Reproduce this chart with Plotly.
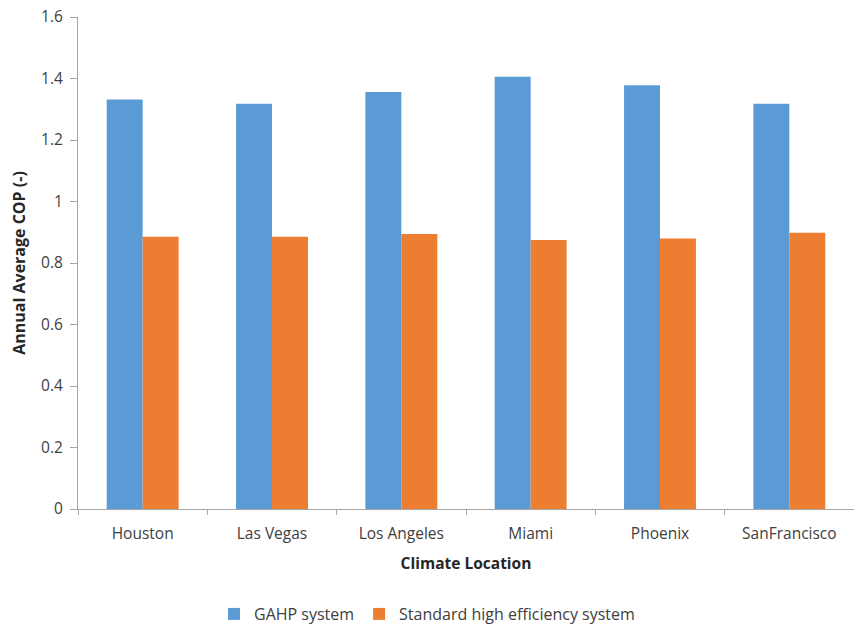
import plotly.graph_objects as go

# Annual average COP by climate location
locations = ["Houston", "Las Vegas", "Los Angeles", "Miami", "Phoenix", "SanFrancisco"]
gahp_cop = [1.332, 1.318, 1.356, 1.406, 1.378, 1.318]
standard_cop = [0.885, 0.885, 0.894, 0.875, 0.880, 0.898]
y_ticks = [0, 0.2, 0.4, 0.6, 0.8, 1, 1.2, 1.4, 1.6]

FONT = "Open Sans"
fig = go.Figure()
fig.add_trace(go.Bar(x=locations, y=gahp_cop, name="GAHP system",
                     marker=dict(color="#5b9bd5", line=dict(width=0))))
fig.add_trace(go.Bar(x=locations, y=standard_cop, name="Standard high efficiency system",
                     marker=dict(color="#ed7d31", line=dict(width=0))))

fig.update_layout(
    width=854, height=624,
    margin=dict(l=78, r=0, t=17, b=115),
    paper_bgcolor="white", plot_bgcolor="white",
    barmode="group", bargap=0.444, bargroupgap=0,
    font=dict(family=FONT, size=15.5, color="#404040"),
    showlegend=True,
    legend=dict(orientation="h", xref="container", yref="container",
                x=0.5, xanchor="center", y=0.016, yanchor="middle",
                font=dict(size=16, color="#404040"), itemwidth=30,
                traceorder="normal"),
    xaxis=dict(
        type="category", showline=True, linecolor="#a6a6a6", linewidth=1,
        ticks="outside", tickson="boundaries", ticklen=5, tickcolor="#a6a6a6",
        showgrid=False, zeroline=False, ticklabelstandoff=10,
        title=dict(text="<b>Climate Location</b>", standoff=15,
                   font=dict(size=15.5, color="#262626")),
        tickfont=dict(size=15.5, color="#404040"),
    ),
    yaxis=dict(
        range=[0, 1.6], tickvals=y_ticks,
        ticktext=[("%g" % v) for v in y_ticks],
        showline=True, linecolor="#a6a6a6", linewidth=1,
        ticks="outside", ticklen=7, tickcolor="#a6a6a6",
        showgrid=False, zeroline=False, ticklabelstandoff=4,
        title=dict(text="<b>Annual Average COP (-)</b>", standoff=11,
                   font=dict(size=16, color="#262626")),
        tickfont=dict(size=15.5, color="#404040"),
    ),
)

fig.write_html("out.html")
